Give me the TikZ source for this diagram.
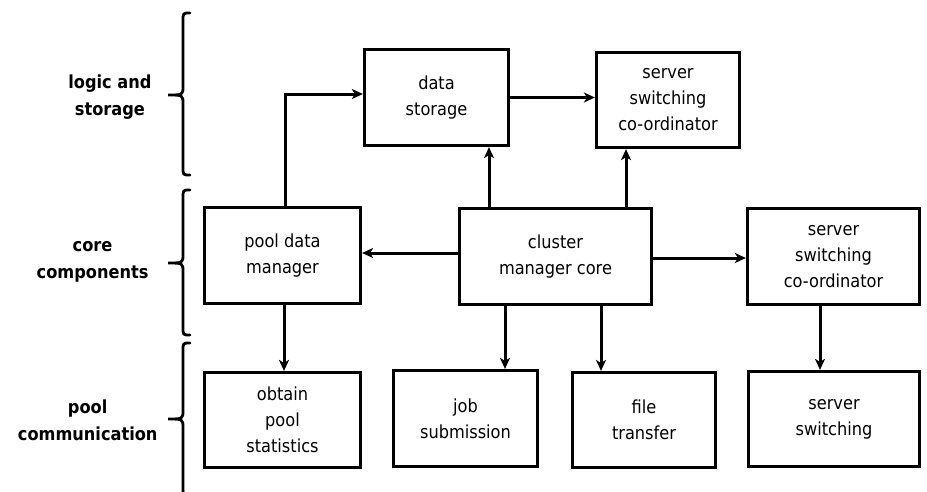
\documentclass[tikz,border=0pt]{standalone}
\usepackage{fontspec}
\setmainfont{DejaVu Sans Condensed}
\usetikzlibrary{arrows.meta}

% left-pointing curly brace on the left side of a row band
\newcommand{\sidebrace}[3]{% top y, tip y, bottom y
  \draw[bracestyle] (190,#1) .. controls (183,#1) .. (183,#1+8)
    -- (183,#2-9) .. controls (183,#2) .. (168,#2)
    .. controls (183,#2) .. (183,#2+9)
    -- (183,#3-8) .. controls (183,#3) .. (190,#3);}

\begin{document}
\begin{tikzpicture}[x=1pt,y=-1pt,
  box/.style={draw,line width=3.2pt,rectangle,align=center,inner sep=0pt,
    font=\fontsize{18}{26}\selectfont},
  arr/.style={line width=3pt,-{Stealth[length=11pt,width=10pt,inset=3pt]}},
  bracestyle/.style={line width=2.8pt,line cap=round},
  tier/.style={align=center,anchor=east,font=\fontsize{18}{27}\selectfont\bfseries}]

\useasboundingbox (0,0) rectangle (927,491);
\clip (0,0) rectangle (927,491);

% upper tier: logic and storage
\node[box,minimum width=144pt,minimum height=96pt] (ds) at (436.5,97.5) {data\\storage};
\node[box,minimum width=143pt,minimum height=95pt] (sc1) at (668,100) {server\\switching\\co-ordinator};

% middle tier: core components
\node[box,minimum width=156pt,minimum height=96pt] (pdm) at (282.5,255.5) {pool data\\manager};
\node[box,minimum width=192pt,minimum height=96pt] (core) at (555.5,256.5) {cluster\\manager core};
\node[box,minimum width=172pt,minimum height=96pt] (sc2) at (833.5,256.5) {server\\switching\\co-ordinator};

% lower tier: pool communication
\node[box,minimum width=156pt,minimum height=95pt] (ops) at (282.5,420) {obtain\\pool\\statistics};
\node[box,minimum width=144pt,minimum height=96pt] (job) at (465.5,418.5) {job\\submission};
\node[box,minimum width=143pt,minimum height=95pt] (ft) at (644,420) {file\\transfer};
\node[box,minimum width=171pt,minimum height=95pt] (ss) at (834,419) {server\\switching};

% connectors
\draw[arr] (ds.east) -- (ds.east -| sc1.west);
\draw[arr] ([xshift=-66.5pt]core.north) -- ([xshift=-66.5pt]core.north |- ds.south);
\draw[arr] ([xshift=70.5pt]core.north) -- ([xshift=70.5pt]core.north |- sc1.south);
\draw[arr] ([yshift=3.5pt]core.west) -- ([yshift=3.5pt]core.west -| pdm.east);
\draw[arr] ([yshift=-1.5pt]core.east) -- ([yshift=-1.5pt]core.east -| sc2.west);
\draw[arr] ([xshift=2.5pt]pdm.north) |- ([yshift=3.5pt]ds.west);
\draw[arr] ([xshift=1.5pt]pdm.south) -- ([xshift=1.5pt]pdm.south |- ops.north);
\draw[arr] ([xshift=-50.5pt]core.south) -- ([xshift=-50.5pt]core.south |- job.north);
\draw[arr] ([xshift=45.5pt]core.south) -- ([xshift=45.5pt]core.south |- ft.north);
\draw[arr] ([xshift=-13.5pt]sc2.south) -- ([xshift=-13.5pt]sc2.south |- ss.north);

% tier braces and labels
\sidebrace{13}{95}{175}
\sidebrace{190}{263}{335}
\sidebrace{343}{419}{495}
\node[tier] (t1) at (155,97) {logic and\\storage};
\node[tier] (t2) at (152,262) {core\\components};
\node[tier] (t3) at (161,420) {pool\\communication};
\end{tikzpicture}
\end{document}
